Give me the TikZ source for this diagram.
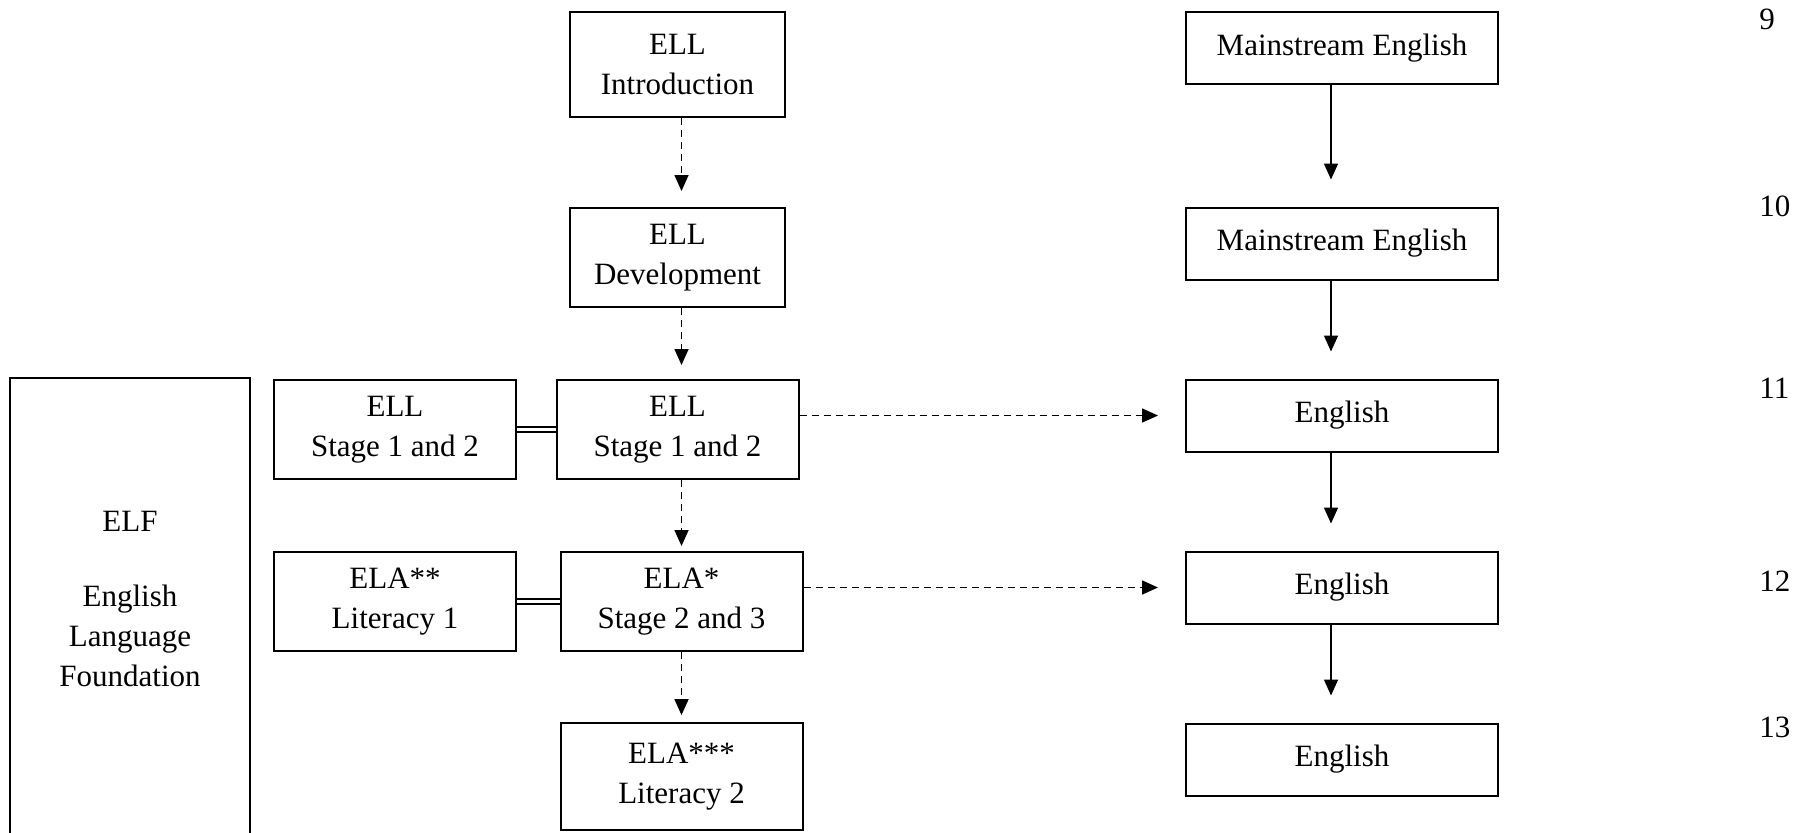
\documentclass[tikz,border=0pt]{standalone}
\usepackage{fontspec}
\setmainfont{Liberation Serif}
\usepackage{tikz}
\usetikzlibrary{arrows.meta}

\begin{document}
\begin{tikzpicture}[node distance=86pt, font=\fontsize{15.5}{20}\selectfont]

\tikzstyle{ellbox} = [rectangle, minimum width=121pt, minimum height=49.5pt, align=center, draw=black, line width=1pt]
\tikzstyle{topbox} = [ellbox, minimum width=107.5pt]
\tikzstyle{engbox} = [ellbox, minimum width=156pt, minimum height=36pt]
\tikzstyle{year} = [anchor=base west, inner sep=0pt]
\tikzstyle{arrow} = [line width=0.8pt, -{Triangle[length=8pt,width=7pt]}]
\tikzstyle{dasharrow} = [arrow, dash pattern=on 3.5pt off 2.5pt]
\tikzstyle{link} = [double, double distance=1.3pt, line width=0.9pt]

\useasboundingbox (0,0) rectangle (901pt,-416pt);

\node (A) [topbox, minimum height=52.5pt] at (338.75pt,-32.25pt) {ELL\\Introduction};
\node (B) [topbox, below of=A, yshift=-10.5pt] {ELL\\Development};
\node (C) [ellbox, below of=B] {ELL\\Stage 1 and 2};
\node (D) [ellbox, below of=C, xshift=2pt] {ELA*\\Stage 2 and 3};
\node (E) [ellbox, minimum height=53.4pt, below of=D, yshift=-1.5pt] {ELA***\\Literacy 2};
\node (G) [ellbox, node distance=141.25pt, left of=C] {ELL\\Stage 1 and 2};
\node (H) [ellbox, node distance=143.25pt, left of=D] {ELA**\\Literacy 1};
\node (F) [ellbox, minimum width=120pt, minimum height=229pt, node distance=132.5pt, left of=H, yshift=-2.75pt] {ELF\\[17.5pt]English\\Language\\Foundation\\[-12.2pt]\mbox{}};

\node (M1) [engbox, node distance=332.25pt, right of=A, yshift=8.25pt] {Mainstream English};
\node (M2) [engbox, below of=M1, yshift=-11.75pt] {Mainstream English};
\node (N1) [engbox, below of=M2] {English};
\node (N2) [engbox, below of=N1] {English};
\node (N3) [engbox, below of=N2] {English};

\node (Y9) [year] at (879.5pt,-14.5pt) {9};
\node (Y10) [year] at (879.5pt,-108pt) {10};
\node (Y11) [year] at (879.5pt,-199pt) {11};
\node (Y12) [year] at (879.5pt,-295.5pt) {12};
\node (Y13) [year] at (879.5pt,-368.5pt) {13};

\draw [dasharrow, shorten >=8pt] (A.south -| D) -- (B.north -| D);
\draw [dasharrow, shorten >=7pt] (B.south -| D) -- (C.north -| D);
\draw [dasharrow, shorten >=2.5pt] (C.south -| D) -- (D.north);
\draw [dasharrow, shorten >=3.5pt] (D) -- (E);
\draw [dasharrow, shorten >=13.5pt] (C.east |- N1) -- (N1.west);
\draw [dasharrow, shorten >=13.5pt] (D.east |- N2) -- (N2.west);
\draw [link] (G) -- (C);
\draw [link] (H) -- (D);
\draw [arrow, shorten >=13.5pt] ([xshift=-5.5pt]M1.south) -- ([xshift=-5.5pt]M2.north);
\draw [arrow, shorten >=13.5pt] ([xshift=-5.5pt]M2.south) -- ([xshift=-5.5pt]N1.north);
\draw [arrow, shorten >=13.5pt] ([xshift=-5.5pt]N1.south) -- ([xshift=-5.5pt]N2.north);
\draw [arrow, shorten >=13.5pt] ([xshift=-5.5pt]N2.south) -- ([xshift=-5.5pt]N3.north);

\end{tikzpicture}
\end{document}
